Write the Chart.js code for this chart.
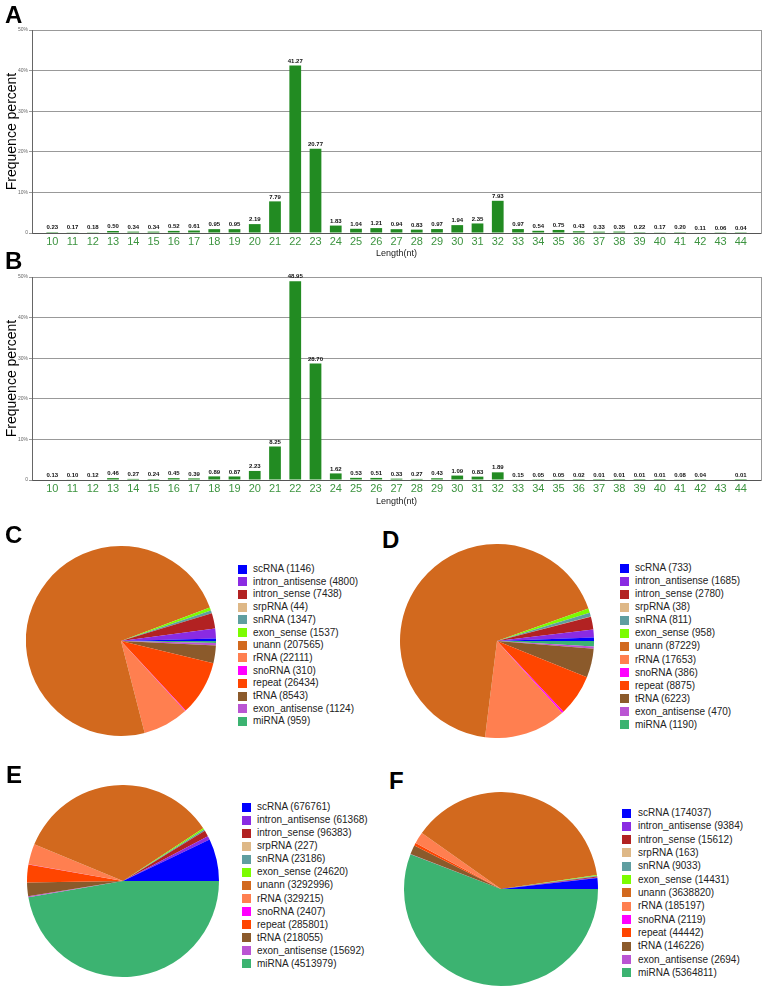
<!DOCTYPE html>
<html>
<head>
<meta charset="utf-8">
<script src="https://cdn.jsdelivr.net/npm/chart.js@4.4.0/dist/chart.umd.min.js"></script>
<style>
  body { margin: 0; background: #fff; }
  #fig { position: relative; width: 766px; height: 993px; overflow: hidden; font-family: 'Liberation Sans', Arial, sans-serif; }
  canvas { position: absolute; }
  .tag { position: absolute; font: bold 24px 'Liberation Sans', Arial, sans-serif; line-height: 24px; color: #000; }
  .legend { position: absolute; font-size: 10px; color: #222; }
  .legend .row { position: absolute; left: 0; height: 12px; line-height: 12px; white-space: nowrap; }
  .legend .box { position: absolute; left: 0; top: 1.5px; width: 9px; height: 9px; }
  .legend .txt { position: absolute; top: 0; }
</style>
</head>
<body>
<div id="fig">
  <canvas id="barA" width="766" height="262" style="left:0px;top:0px"></canvas>
  <canvas id="barB" width="766" height="265" style="left:0px;top:245px"></canvas>
  <canvas id="pieC" width="190" height="190" style="left:26px;top:546px"></canvas>
  <canvas id="pieD" width="194" height="194" style="left:400px;top:544px"></canvas>
  <canvas id="pieE" width="192" height="192" style="left:27px;top:785px"></canvas>
  <canvas id="pieF" width="194" height="194" style="left:404px;top:792px"></canvas>

  <div class="tag" style="left:5px;top:3px">A</div>
  <div class="tag" style="left:5px;top:249px">B</div>
  <div class="tag" style="left:5px;top:523px">C</div>
  <div class="tag" style="left:382px;top:528px">D</div>
  <div class="tag" style="left:6px;top:763px">E</div>
  <div class="tag" style="left:389px;top:769px">F</div>

  <div class="legend" id="legC"></div>
  <div class="legend" id="legD"></div>
  <div class="legend" id="legE"></div>
  <div class="legend" id="legF"></div>
</div>

<script>
// Longueurs (nt)
const lengths = [10, 11, 12, 13, 14, 15, 16, 17, 18, 19, 20, 21, 22, 23, 24, 25, 26, 27,
                 28, 29, 30, 31, 32, 33, 34, 35, 36, 37, 38, 39, 40, 41, 42, 43, 44];

// Fréquences (%) panneau A et B
const freqA = [0.23, 0.17, 0.18, 0.50, 0.34, 0.34, 0.52, 0.61, 0.95, 0.95, 2.19, 7.79, 41.27, 20.77,
               1.83, 1.04, 1.21, 0.94, 0.83, 0.97, 1.94, 2.35, 7.93, 0.97, 0.54, 0.75, 0.43, 0.33,
               0.35, 0.22, 0.17, 0.20, 0.11, 0.06, 0.04];
const freqB = [0.13, 0.10, 0.12, 0.46, 0.27, 0.24, 0.45, 0.39, 0.89, 0.87, 2.23, 8.25, 48.95, 28.70,
               1.62, 0.53, 0.51, 0.33, 0.27, 0.43, 1.09, 0.83, 1.89, 0.15, 0.05, 0.05, 0.02, 0.01,
               0.01, 0.01, 0.01, 0.08, 0.04, null, 0.01];

const yTicks = [0, 10, 20, 30, 40, 50];

// Catégories d'ARN
const rnaTypes = ['scRNA', 'intron_antisense', 'intron_sense', 'srpRNA', 'snRNA', 'exon_sense', 'unann',
                  'rRNA', 'snoRNA', 'repeat', 'tRNA', 'exon_antisense', 'miRNA'];
const rnaColors = ['#0000ff', '#8a2be2', '#b22222', '#deb887', '#5f9ea0', '#7cfc00', '#d2691e',
                   '#ff7f50', '#ff00ff', '#ff4500', '#8b5a2b', '#ba55d3', '#3cb371'];

const countsC = [1146, 4800, 7438, 44, 1347, 1537, 207565, 22111, 310, 26434, 8543, 1124, 959];
const countsD = [733, 1685, 2780, 38, 811, 958, 87229, 17653, 386, 8875, 6223, 470, 1190];
const countsE = [676761, 61368, 96383, 227, 23186, 24620, 3292996, 329215, 2407, 285801, 218055, 15692, 4513979];
const countsF = [174037, 9384, 15612, 163, 9033, 14431, 3638820, 185197, 2119, 44442, 146226, 2694, 5364811];

Chart.defaults.font.family = "'Liberation Sans', Arial, sans-serif";

// valeurs au-dessus des barres
const barValueLabels = {
  id: 'barValueLabels',
  afterDatasetsDraw(chart) {
    const ctx = chart.ctx;
    const meta = chart.getDatasetMeta(0);
    const pts = chart.data.datasets[0].data;
    ctx.save();
    ctx.font = "bold 6px 'Liberation Sans', Arial, sans-serif";
    ctx.fillStyle = '#111';
    ctx.textAlign = 'center';
    ctx.textBaseline = 'bottom';
    meta.data.forEach((bar, i) => {
      const v = pts[i].y;
      if (v == null) return;
      ctx.fillText(v.toFixed(2), bar.x, bar.y - 1.5);
    });
    ctx.restore();
  }
};

function makeBar(id, values, padTop, xHeight) {
  new Chart(document.getElementById(id), {
    type: 'bar',
    data: {
      datasets: [{
        data: lengths.map((l, i) => ({ x: l, y: values[i] })),
        backgroundColor: '#228b22',
        barPercentage: 0.58,
        categoryPercentage: 1
      }]
    },
    options: {
      responsive: false,
      animation: false,
      layout: { padding: { top: padTop, right: 5, left: 0, bottom: 0 } },
      plugins: { legend: { display: false }, tooltip: { enabled: false } },
      scales: {
        x: {
          type: 'linear',
          min: 9,
          max: 45,
          offset: false,
          grid: { display: false, drawTicks: false, offset: false },
          border: { display: true, color: '#555' },
          ticks: {
            stepSize: 1,
            autoSkip: false,
            maxRotation: 0,
            padding: 2,
            color: '#3d9440',
            font: { size: 11 },
            callback: v => (lengths.includes(v) ? String(v) : '')
          },
          title: { display: true, text: 'Length(nt)', color: '#222', font: { size: 9 }, padding: { top: 2, bottom: 3 } },
          afterFit: s => { s.height = xHeight; }
        },
        y: {
          min: 0,
          max: 50,
          afterBuildTicks: s => { s.ticks = yTicks.map(v => ({ value: v })); },
          grid: { color: '#999', tickLength: 3 },
          border: { display: true, color: '#666' },
          ticks: {
            padding: 1,
            color: '#666',
            font: { size: 5 },
            callback: v => (v === 0 ? '0' : v + '%')
          },
          title: {
            display: true,
            text: 'Frequence percent',
            color: '#000',
            font: { size: 14 }
          },
          afterFit: s => { s.width = 32; }
        },
        y2: {
          position: 'right',
          min: 0,
          max: 50,
          grid: { display: false },
          ticks: { display: false },
          border: { display: true, color: '#999' },
          afterFit: s => { s.width = 0; }
        }
      }
    },
    plugins: [barValueLabels]
  });
}

// camemberts : sens anti-horaire à partir de 3 h
function makePie(id, values) {
  new Chart(document.getElementById(id), {
    type: 'pie',
    data: {
      labels: rnaTypes.slice().reverse(),
      datasets: [{
        data: values.slice().reverse(),
        backgroundColor: rnaColors.slice().reverse(),
        borderWidth: 0
      }]
    },
    options: {
      responsive: false,
      animation: false,
      rotation: 90,
      plugins: { legend: { display: false }, tooltip: { enabled: false } }
    }
  });
}

function makeLegend(id, values, left, firstY, pitch, textOffset) {
  const el = document.getElementById(id);
  el.style.left = left + 'px';
  el.style.top = '0px';
  rnaTypes.forEach((name, i) => {
    const row = document.createElement('div');
    row.className = 'row';
    row.style.top = (firstY - 6 + i * pitch) + 'px';
    const box = document.createElement('span');
    box.className = 'box';
    box.style.background = rnaColors[i];
    const txt = document.createElement('span');
    txt.className = 'txt';
    txt.style.left = textOffset + 'px';
    txt.innerText = name + ' (' + values[i] + ')';
    row.appendChild(box);
    row.appendChild(txt);
    el.appendChild(row);
  });
}

makeBar('barA', freqA, 30, 29);
makeBar('barB', freqB, 32, 30);

makePie('pieC', countsC);
makePie('pieD', countsD);
makePie('pieE', countsE);
makePie('pieF', countsF);

makeLegend('legC', countsC, 238, 569, 12.7, 15);
makeLegend('legD', countsD, 620, 568, 13.08, 15);
makeLegend('legE', countsE, 242, 807, 13.08, 15);
makeLegend('legF', countsF, 622, 813, 13.33, 16);
</script>
</body>
</html>
